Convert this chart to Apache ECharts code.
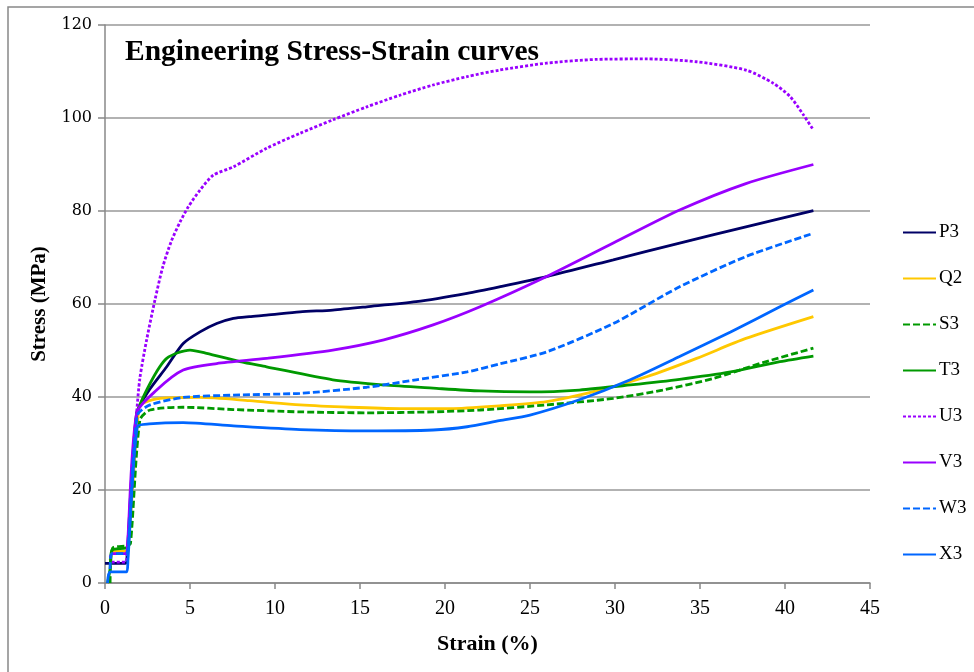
<!DOCTYPE html>
<html>
<head>
<meta charset="utf-8">
<script src="https://cdn.jsdelivr.net/npm/echarts@6/dist/echarts.min.js"></script>
<style>
  html, body { margin: 0; padding: 0; background: #fff; }
  #chart { width: 974px; height: 672px; }
</style>
</head>
<body>
<div id="chart"></div>
<script>
// Engineering stress-strain curves: each series is a list of [strain %, stress MPa]
const seriesNames = ['P3', 'Q2', 'S3', 'T3', 'U3', 'V3', 'W3', 'X3'];

const P3 = [[0,4.2],[1.2,4.2],[1.3,6],[1.86,36.5],[2.6,41.5],[3.63,46.5],[4.6,51.5],[5.59,54.0],
  [6.57,55.8],[7.55,56.9],[8.5,57.3],[9.5,57.6],[11.47,58.3],[13.4,58.7],[15.4,59.4],[18.3,60.5],
  [21.3,62.3],[23.2,63.7],[25.98,65.9],[29.9,69.5],[33.8,73.1],[37.7,76.6],[41.67,80.1]];

const Q2 = [[0.3,5],[0.5,6.8],[1.2,6.8],[1.35,7],[2.0,38],[2.3,38.8],[3.24,39.7],[5.59,39.9],
  [8.5,39.2],[11.47,38.3],[14.4,37.8],[17.35,37.5],[20.3,37.5],[23.2,38.1],[25.98,39.0],
  [28.9,41.3],[31.9,44.4],[34.8,48.3],[37.7,52.6],[41.67,57.3]];

const S3 = [[0.3,0],[0.45,7.5],[1.3,8],[1.5,8.5],[2.05,35],[2.65,37.2],[4.6,37.8],[7.55,37.3],
  [11.47,36.8],[15.4,36.6],[19.3,36.8],[22.06,37.2],[25.98,38.3],[29.9,39.7],[32.8,41.5],
  [35.8,44.0],[38.7,47.4],[41.67,50.5]];

const T3 = [[0.15,0],[0.3,3],[0.4,7],[1.2,7.5],[1.35,8],[1.86,36],[2.65,42.9],[3.63,48.3],
  [5.0,50.1],[5.98,49.4],[7.94,47.6],[9.5,46.5],[13.4,43.7],[16.4,42.6],[19.3,41.9],
  [22.06,41.3],[25.0,41.1],[27.9,41.5],[30.9,42.6],[33.8,43.8],[36.8,45.4],[39.7,47.6],[41.67,48.8]];

const U3 = [[0.4,4.5],[1.2,4.5],[1.3,5.5],[1.85,36],[2.05,44],[2.45,52.3],[2.94,60.9],[3.4,68],
  [3.9,73.5],[4.41,77.6],[4.9,80.9],[5.59,84.5],[6.37,87.7],[7.55,89.5],[9.51,93.5],[11.47,96.7],
  [13.4,99.6],[15.4,102.4],[17.35,104.9],[19.3,107.1],[21.3,108.9],[23.2,110.3],[25.98,111.8],
  [28.9,112.6],[31.9,112.7],[34.8,112.1],[37.7,110.3],[39.3,107.5],[40.3,104.6],[41.1,100.6],[41.67,97.4]];

const V3 = [[0.3,5.5],[0.45,6.3],[1.2,6.3],[1.3,6.8],[1.86,36.5],[3.04,41.5],[4.6,45.8],[6.57,47.2],
  [9.5,48.3],[13.4,50.1],[16.4,52.3],[19.3,55.5],[22.06,59.4],[25.98,65.9],[29.9,73.1],
  [33.8,80.2],[37.7,85.9],[41.67,90.0]];

const W3 = [[0.3,3],[0.4,6.3],[1.25,6.3],[1.35,7],[1.9,36],[2.65,38.3],[4.6,39.9],[7.55,40.4],
  [11.47,40.8],[15.4,42.1],[18.3,43.7],[21.3,45.4],[23.2,47.1],[25.98,49.7],[29.9,55.8],
  [33.8,63.7],[37.7,70.2],[41.67,75.2]];

const X3 = [[0.15,0],[0.3,2.4],[1.27,2.4],[1.35,5],[1.9,33.6],[2.6,34.2],[4.6,34.5],[7.55,33.8],
  [11.47,33.0],[15.4,32.7],[19.3,32.9],[21.3,33.6],[23.2,34.9],[25.0,36.1],[27.9,39.4],
  [30.9,43.7],[33.8,48.7],[36.8,54.0],[39.7,59.4],[41.67,63.0]];

const seriesData = [P3, Q2, S3, T3, U3, V3, W3, X3];
const seriesColors = ['#000066', '#FFC800', '#009900', '#009900', '#9900FF', '#9900FF', '#0066FF', '#0066FF'];
const seriesDash = ['solid', 'solid', [7, 3], 'solid', [3, 2], 'solid', [7, 3], 'solid'];

const xTicks = { min: 0, max: 45, interval: 5 };
const yTicks = { min: 0, max: 120, interval: 20 };

const chart = echarts.init(document.getElementById('chart'), null, { renderer: 'canvas' });

const serif = 'Liberation Serif';

chart.setOption({
  backgroundColor: '#ffffff',
  animation: false,
  title: {
    text: 'Engineering Stress-Strain curves',
    left: 120,
    top: 32,
    textStyle: { fontFamily: serif, fontWeight: 'bold', fontSize: 29.5, color: '#000' }
  },
  legend: {
    orient: 'vertical',
    left: 897,
    top: 218,
    itemWidth: 33,
    itemHeight: 14,
    itemGap: 27,
    data: seriesNames,
    itemStyle: { opacity: 0 },
    textStyle: { fontFamily: serif, fontSize: 19, color: '#000', padding: [0, 0, 0, -2] }
  },
  grid: { left: 105, right: 104, top: 25, bottom: 89, containLabel: false },
  xAxis: {
    type: 'value',
    min: xTicks.min, max: xTicks.max, interval: xTicks.interval,
    name: 'Strain (%)',
    nameLocation: 'middle',
    nameGap: 50,
    nameTextStyle: { fontFamily: serif, fontWeight: 'bold', fontSize: 22, color: '#000' },
    axisLine: { show: true, lineStyle: { color: '#888', width: 1.5 } },
    axisTick: { show: true, length: 6, lineStyle: { color: '#888', width: 1.5 } },
    axisLabel: { fontFamily: serif, fontSize: 20, color: '#000', margin: 16 },
    splitLine: { show: false }
  },
  yAxis: {
    type: 'value',
    min: yTicks.min, max: yTicks.max, interval: yTicks.interval,
    name: 'Stress (MPa)',
    nameLocation: 'middle',
    nameGap: 55,
    nameRotate: 90,
    nameTextStyle: { fontFamily: serif, fontWeight: 'bold', fontSize: 21, color: '#000' },
    axisLine: { show: true, lineStyle: { color: '#888', width: 1.5 } },
    axisTick: { show: true, length: 7, lineStyle: { color: '#888', width: 1.5 } },
    axisLabel: { fontFamily: 'DejaVu Serif', fontSize: 16, color: '#000', margin: 13 },
    splitLine: { show: true, lineStyle: { color: '#999', width: 1.5 } }
  },
  graphic: [{
    type: 'rect',
    shape: { x: 8, y: 7, width: 1000, height: 700 },
    style: { fill: 'none', stroke: '#888', lineWidth: 1.5 },
    silent: true,
    z: -1
  }],
  series: seriesNames.map((name, i) => ({
    name: name,
    type: 'line',
    data: seriesData[i],
    showSymbol: false,
    symbol: 'none',
    smooth: 0.25,
    color: seriesColors[i],
    lineStyle: { color: seriesColors[i], width: 2.8, type: seriesDash[i] }
  }))
});
</script>
</body>
</html>
